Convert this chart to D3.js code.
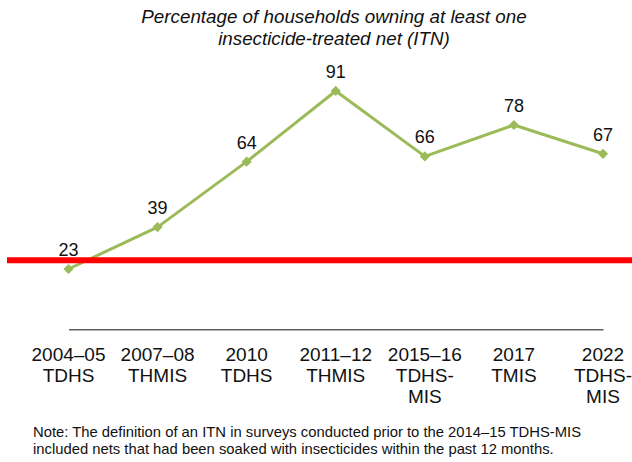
<!DOCTYPE html>
<html>
<head>
<meta charset="utf-8">
<script src="https://cdn.jsdelivr.net/npm/d3@7"></script>
<style>
  html, body { margin: 0; padding: 0; background: #fff; }
  svg { display: block; font-family: "Liberation Sans", Arial, sans-serif; }
</style>
</head>
<body>
<svg id="chart" width="632" height="462"></svg>
<script>
// Survey rounds (two or three label lines each) and ITN ownership percentages
const surveyYears = ["2004–05", "2007–08", "2010", "2011–12", "2015–16", "2017", "2022"];
const surveyNames = [["TDHS"], ["THMIS"], ["TDHS"], ["THMIS"], ["TDHS-", "MIS"], ["TMIS"], ["TDHS-", "MIS"]];
const itnPercent = [23, 39, 64, 91, 66, 78, 67];
// Horizontal red reference line level (percent)
const referenceLevel = [26.3];
const titleLines = ["Percentage of households owning at least one", "insecticide-treated net (ITN)"];
const noteLines = [
  "Note: The definition of an ITN in surveys conducted prior to the 2014–15 TDHS-MIS",
  "included nets that had been soaked with insecticides within the past 12 months."
];

const svg = d3.select("#chart");
const W = 632;

const x = d3.scalePoint().domain(surveyYears).range([68.5, 603]);
const y = d3.scaleLinear().domain([0, 100]).range([329.2, 67.4]);

// Title
svg.append("g").selectAll("text").data(titleLines).join("text")
  .attr("x", 334).attr("y", (d, i) => 23 + i * 21.5)
  .attr("text-anchor", "middle")
  .attr("font-size", 18.8).attr("font-style", "italic").attr("fill", "#111")
  .text(d => d);

// Baseline axis
const xAxis = d3.axisBottom(x).tickSize(0).tickFormat("");
const axisG = svg.append("g").attr("transform", `translate(0,${y(0)})`).call(xAxis);
axisG.select(".domain").attr("stroke", "#5f5f5f").attr("stroke-width", 1.6);

// Category labels
const catG = svg.append("g");
surveyYears.forEach((yr, i) => {
  const lines = [yr].concat(surveyNames[i]);
  catG.append("text")
    .attr("x", x(yr)).attr("y", 361)
    .attr("text-anchor", "middle").attr("font-size", 19).attr("fill", "#111")
    .selectAll("tspan").data(lines).join("tspan")
      .attr("x", x(yr)).attr("dy", (d, j) => j === 0 ? 0 : 21)
      .text(d => d);
});

// Line and markers
const pts = surveyYears.map((d, i) => ({ k: d, v: itnPercent[i] }));
const line = d3.line().x(d => x(d.k)).y(d => y(d.v));
svg.append("path").datum(pts)
  .attr("d", line).attr("fill", "none")
  .attr("stroke", "#9BBB59").attr("stroke-width", 3).attr("stroke-linejoin", "round");

svg.append("g").selectAll("path").data(pts).join("path")
  .attr("transform", d => `translate(${x(d.k)},${y(d.v)}) rotate(45)`)
  .attr("d", "M-3.6,-3.6H3.6V3.6H-3.6Z")
  .attr("fill", "#9BBB59");

// Reference line
svg.append("g").selectAll("line").data(referenceLevel).join("line")
  .attr("x1", 7).attr("x2", W)
  .attr("y1", d => y(d)).attr("y2", d => y(d))
  .attr("stroke", "#ff0000").attr("stroke-width", 6);

// Value labels
svg.append("g").selectAll("text").data(pts).join("text")
  .attr("x", d => x(d.k)).attr("y", d => y(d.v) - 13)
  .attr("text-anchor", "middle").attr("font-size", 18).attr("fill", "#111")
  .text(d => d.v);

// Note
svg.append("g").selectAll("text").data(noteLines).join("text")
  .attr("x", 33).attr("y", (d, i) => 437 + i * 17)
  .attr("font-size", 14.8).attr("fill", "#111")
  .text(d => d);
</script>
</body>
</html>
